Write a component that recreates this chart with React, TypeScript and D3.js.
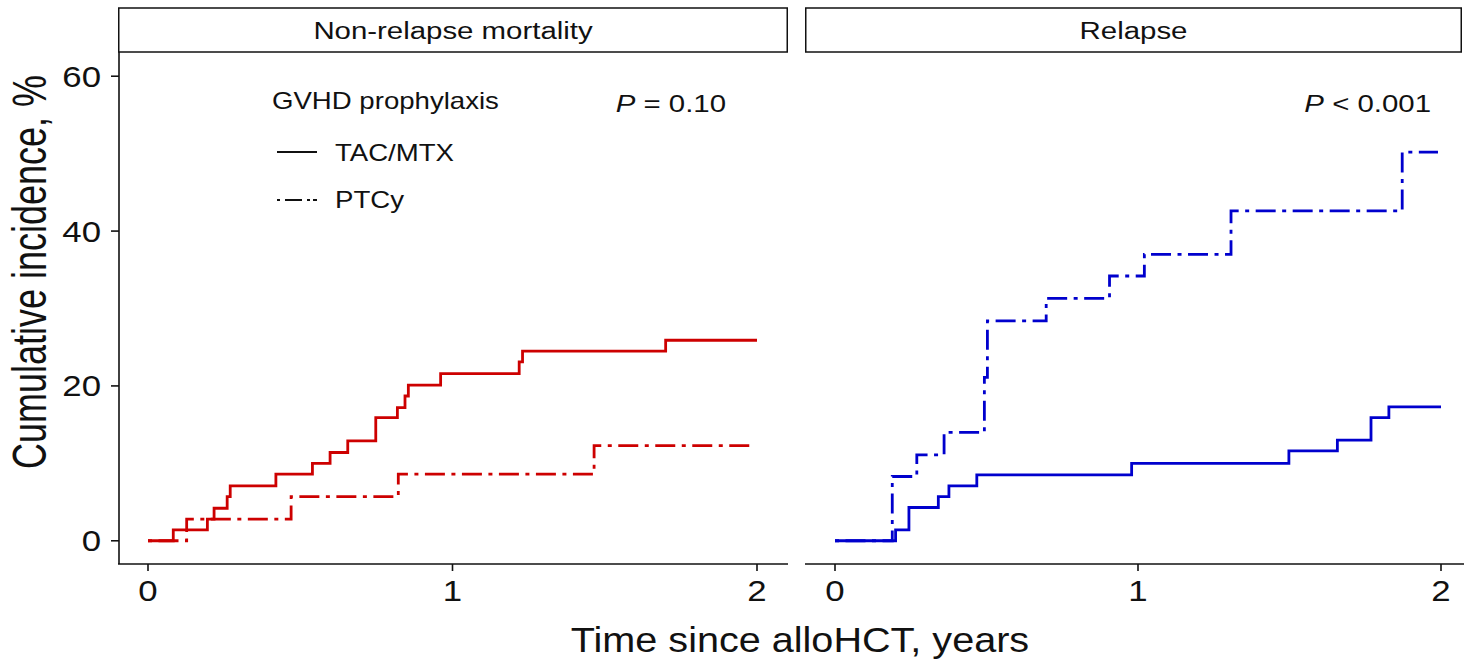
import React from "react";
import * as d3 from "d3";

// Cumulative incidence step data (time in years, incidence in %)
const nrmTacTimes = [0, 0.083, 0.195, 0.217, 0.26, 0.27, 0.42, 0.54, 0.598, 0.656, 0.748, 0.819, 0.844, 0.855, 0.961, 1.219, 1.23, 1.7, 2.0];
const nrmTacValues = [0, 1.4, 2.8, 4.2, 5.7, 7.1, 8.6, 10.0, 11.4, 12.9, 15.9, 17.2, 18.7, 20.1, 21.6, 23.1, 24.5, 25.9, 25.9];

const nrmPtcyTimes = [0, 0.127, 0.47, 0.822, 1.465, 1.99];
const nrmPtcyValues = [0, 2.8, 5.7, 8.6, 12.3, 12.3];

const relTacTimes = [0, 0.2, 0.244, 0.341, 0.376, 0.468, 0.979, 1.498, 1.658, 1.769, 1.828, 2.0];
const relTacValues = [0, 1.4, 4.3, 5.7, 7.1, 8.5, 10.0, 11.6, 13.0, 15.9, 17.3, 17.3];

const relPtcyTimes = [0, 0.189, 0.27, 0.36, 0.493, 0.503, 0.697, 0.906, 1.021, 1.307, 1.872, 1.99];
const relPtcyValues = [0, 8.3, 11.1, 14.0, 21.1, 28.4, 31.3, 34.2, 37.0, 42.6, 50.2, 50.2];

const panelTitles = ["Non-relapse mortality", "Relapse"];
const pValueOps = ["=", "<"];
const pValueNums = ["0.10", "0.001"];
const xTicks = [0, 1, 2];
const yTicks = [0, 20, 40, 60];
const legendTitle = "GVHD prophylaxis";
const groupNames = ["TAC/MTX", "PTCy"];

const RED = "#CD0000";
const BLUE = "#0000CD";
const DOTDASH = "4 6.5 20 6.5";
const FONT = "'Liberation Sans', Arial, Helvetica, sans-serif";
const SX = 1.2; // horizontal text stretch

const W = 1464;
const H = 662;
const top = 53;
const bottom = 564;

const yScale = d3.scaleLinear().domain([-3, 63]).range([bottom, top]);

type Pt = { t: number; v: number };
type Panel = {
  title: string;
  x0: number;
  x1: number;
  xScale: d3.ScaleLinear<number, number>;
  color: string;
  solid: Pt[];
  dashed: Pt[];
  pOp: string;
  pNum: string;
  pX: number;
  showYAxis: boolean;
};

const zip = (ts: number[], vs: number[]): Pt[] => ts.map((t, i) => ({ t, v: vs[i] }));

function Txt(props: {
  x: number;
  y: number;
  size: number;
  anchor?: string;
  sx?: number;
  rotate?: number;
  children: React.ReactNode;
  fill?: string;
}) {
  const { x, y, size, anchor = "start", sx = SX, rotate = 0, children, fill = "#111" } = props;
  return (
    <text
      transform={`translate(${x},${y}) scale(${sx},1)${rotate ? ` rotate(${rotate})` : ""}`}
      fontSize={size}
      fontFamily={FONT}
      textAnchor={anchor}
      fill={fill}
    >
      {children}
    </text>
  );
}

export default function App() {
  const panels: Panel[] = [
    {
      title: panelTitles[0],
      x0: 118,
      x1: 788,
      xScale: d3.scaleLinear().domain([0, 2]).range([148, 757]),
      color: RED,
      solid: zip(nrmTacTimes, nrmTacValues),
      dashed: zip(nrmPtcyTimes, nrmPtcyValues),
      pOp: pValueOps[0],
      pNum: pValueNums[0],
      pX: 726,
      showYAxis: true,
    },
    {
      title: panelTitles[1],
      x0: 805,
      x1: 1462,
      xScale: d3.scaleLinear().domain([0, 2]).range([835, 1441]),
      color: BLUE,
      solid: zip(relTacTimes, relTacValues),
      dashed: zip(relPtcyTimes, relPtcyValues),
      pOp: pValueOps[1],
      pNum: pValueNums[1],
      pX: 1431,
      showYAxis: false,
    },
  ];

  return (
    <svg width={W} height={H} style={{ position: "absolute", left: 0, top: 0, background: "#fff" }}>
      <rect x={0} y={0} width={W} height={H} fill="#fff" />
      {panels.map((p, pi) => {
        const line = d3
          .line<Pt>()
          .x((d) => p.xScale(d.t))
          .y((d) => yScale(d.v))
          .curve(d3.curveStepAfter);
        return (
          <g key={pi}>
            {/* strip */}
            <rect x={p.x0 + 0.75} y={8} width={p.x1 - p.x0 - 1.5} height={44} fill="#fff" stroke="#111" strokeWidth={1.5} />
            <Txt x={(p.x0 + p.x1) / 2} y={39} size={24.5} anchor="middle">
              {p.title}
            </Txt>
            {/* curves */}
            <path d={line(p.dashed) || ""} fill="none" stroke={p.color} strokeWidth={2.8} strokeDasharray={DOTDASH} />
            <path d={line(p.solid) || ""} fill="none" stroke={p.color} strokeWidth={2.8} />
            {/* x axis */}
            <line x1={p.x0} x2={p.x1 + (pi === 1 ? 10 : 0)} y1={bottom} y2={bottom} stroke="#111" strokeWidth={1.6} />
            {xTicks.map((t) => (
              <g key={t}>
                <line x1={p.xScale(t)} x2={p.xScale(t)} y1={bottom} y2={bottom + 7} stroke="#111" strokeWidth={1.6} />
                <Txt x={p.xScale(t)} y={601} size={29} anchor="middle">
                  {t}
                </Txt>
              </g>
            ))}
            {p.showYAxis && (
              <g>
                <line x1={119} x2={119} y1={top - 1} y2={bottom} stroke="#111" strokeWidth={1.6} />
                {yTicks.map((v) => (
                  <g key={v}>
                    <line x1={111} x2={119} y1={yScale(v)} y2={yScale(v)} stroke="#111" strokeWidth={1.6} />
                    <Txt x={101} y={yScale(v) + 10.5} size={29} anchor="end">
                      {v}
                    </Txt>
                  </g>
                ))}
              </g>
            )}
            {/* p-value */}
            <text
              transform={`translate(${p.pX},${112}) scale(${SX},1)`}
              fontSize={24.5}
              fontFamily={FONT}
              textAnchor="end"
              fill="#111"
            >
              <tspan fontStyle="italic">P</tspan>
              <tspan>{` ${p.pOp} ${p.pNum}`}</tspan>
            </text>
          </g>
        );
      })}

      {/* legend */}
      <Txt x={272} y={109} size={23}>
        {legendTitle}
      </Txt>
      <line x1={277} x2={317} y1={152} y2={152} stroke="#111" strokeWidth={2} />
      <Txt x={335} y={161} size={23}>
        {groupNames[0]}
      </Txt>
      <line x1={277} x2={317} y1={200} y2={200} stroke="#111" strokeWidth={2} strokeDasharray="3 5 17 5 3" />
      <Txt x={335} y={208} size={23}>
        {groupNames[1]}
      </Txt>

      {/* axis titles */}
      <Txt x={800} y={652} size={36} anchor="middle" sx={1.1}>
        Time since alloHCT, years
      </Txt>
      <Txt x={46} y={272} size={36} anchor="middle" sx={1.33} rotate={-90}>
        Cumulative incidence, %
      </Txt>
    </svg>
  );
}
